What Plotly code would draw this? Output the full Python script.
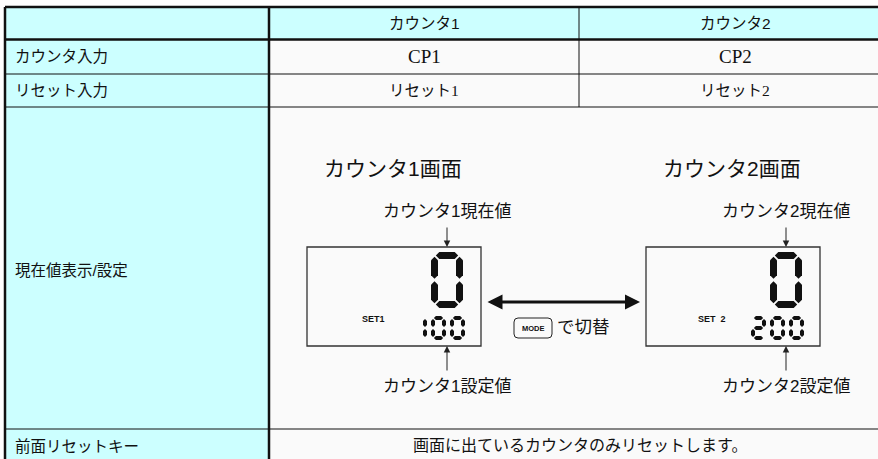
import plotly.graph_objects as go

W, H = 878, 459

# ---- table content ----
header_labels = ["カウンタ1", "カウンタ2"]
row_labels = ["カウンタ入力", "リセット入力", "現在値表示/設定", "前面リセットキー"]
counter_inputs = ["CP1", "CP2"]
reset_inputs = ["リセット1", "リセット2"]
front_reset_text = "画面に出ているカウンタのみリセットします。"

# ---- diagram content ----
screen_titles = ["カウンタ1画面", "カウンタ2画面"]
present_labels = ["カウンタ1現在値", "カウンタ2現在値"]
setting_labels = ["カウンタ1設定値", "カウンタ2設定値"]
set_tags = ["SET1", "SET  2"]
present_values = ["0", "0"]
setting_values = ["100", "200"]
switch_key = "MODE"
switch_text = "で切替"

# ---- layout geometry (pixels) ----
col_x = [5, 269, 579, 891]
row_y = [7, 39.5, 74, 107, 429, 480]
CYAN = "#ccffff"
BODY = "#fafafa"
LINE = "#111111"

SANS = "Liberation Sans, Noto Sans CJK JP, sans-serif"
SERIF = "Liberation Serif, Noto Sans CJK JP, serif"

fig = go.Figure()
shapes = []
ann = []

def rect(x0, y0, x1, y1, fill):
    shapes.append(dict(type="rect", x0=x0, y0=y0, x1=x1, y1=y1, xref="x", yref="y",
                       fillcolor=fill, line=dict(width=0), layer="below"))

def line(x0, y0, x1, y1, w, color=LINE):
    shapes.append(dict(type="line", x0=x0, y0=y0, x1=x1, y1=y1, xref="x", yref="y",
                       line=dict(color=color, width=w)))

def text(x, y, s, size, family=SANS, xanchor="center", color="#111"):
    ann.append(dict(x=x, y=y, xref="x", yref="y", text=s, showarrow=False,
                    xanchor=xanchor, yanchor="middle",
                    font=dict(size=size, family=family, color=color)))

# fills
rect(col_x[1], row_y[1], col_x[3], row_y[5], BODY)
rect(col_x[0], row_y[0], col_x[1], row_y[5], CYAN)
rect(col_x[1], row_y[0], col_x[3], row_y[1], CYAN)

# grid lines
line(col_x[0], row_y[0], col_x[3], row_y[0], 2.5)
line(col_x[0], row_y[1], col_x[3], row_y[1], 2.5)
for yy in row_y[2:5]:
    line(col_x[0], yy, col_x[3], yy, 1)
line(col_x[0], row_y[0], col_x[0], row_y[5], 2.5)
line(col_x[1], row_y[0], col_x[1], row_y[5], 2.5)
line(col_x[2], row_y[0], col_x[2], row_y[3], 1)

# header & table texts
for i, s in enumerate(header_labels):
    text((col_x[i + 1] + col_x[i + 2]) / 2, (row_y[0] + row_y[1]) / 2, s, 15.5)
row_centers = [(row_y[1] + row_y[2]) / 2, (row_y[2] + row_y[3]) / 2,
               (row_y[3] + row_y[4]) / 2 + 2, 446]
for s, yc in zip(row_labels, row_centers):
    text(13, yc, s, 15.5, xanchor="left")
for i in range(2):
    cx = (col_x[i + 1] + col_x[i + 2]) / 2
    text(cx, row_centers[0], counter_inputs[i], 19, family=SERIF)
    text(cx, row_centers[1], reset_inputs[i], 15.5, family=SERIF)
text((col_x[1] + col_x[3]) / 2, 445, front_reset_text, 16, family=SERIF)

# ---- seven segment digits ----
SEGMAP = {"0": "abcdef", "1": "bc", "2": "abged", "3": "abgcd", "4": "fgbc",
          "5": "afgcd", "6": "afgedc", "7": "abc", "8": "abcdefg", "9": "abcdfg"}

def hseg(xl, xr, yc, t):
    h = t / 2
    return f"M{xl},{yc} L{xl+h},{yc-h} L{xr-h},{yc-h} L{xr},{yc} L{xr-h},{yc+h} L{xl+h},{yc+h} Z"

def vseg(xc, yt, yb, t):
    h = t / 2
    return f"M{xc},{yt} L{xc+h},{yt+h} L{xc+h},{yb-h} L{xc},{yb} L{xc-h},{yb-h} L{xc-h},{yt+h} Z"

def digit(ch, x0, y0, w, h, t, g):
    xl, xr = x0 + t / 2, x0 + w - t / 2
    yt, ym, yb = y0 + t / 2, y0 + h / 2, y0 + h - t / 2
    segs = {
        "a": hseg(xl + g, xr - g, yt, t),
        "g": hseg(xl + g, xr - g, ym, t),
        "d": hseg(xl + g, xr - g, yb, t),
        "f": vseg(xl, yt + g, ym - g, t),
        "b": vseg(xr, yt + g, ym - g, t),
        "e": vseg(xl, ym + g, yb - g, t),
        "c": vseg(xr, ym + g, yb - g, t),
    }
    for s in SEGMAP[ch]:
        shapes.append(dict(type="path", path=segs[s], xref="x", yref="y",
                           fillcolor="#111", line=dict(width=0)))

# ---- screens ----
box_x = [307, 646]
box_y, box_w, box_h = 247, 174, 99
for i in range(2):
    bx = box_x[i]
    shapes.append(dict(type="rect", x0=bx, y0=box_y, x1=bx + box_w, y1=box_y + box_h,
                       xref="x", yref="y", line=dict(color="#333", width=1.3),
                       fillcolor="rgba(0,0,0,0)"))
    ax_x = bx + 140
    text(bx + 86, 168, screen_titles[i], 21)
    text(ax_x, 211, present_labels[i], 17)
    text(ax_x, 386, setting_labels[i], 17)
    ann.append(dict(x=ax_x, y=box_y, ax=ax_x, ay=226, xref="x", yref="y", axref="x",
                    ayref="y", text="", showarrow=True, arrowhead=2, arrowsize=1.3,
                    arrowwidth=1, arrowcolor="#222"))
    ann.append(dict(x=ax_x, y=box_y + box_h, ax=ax_x, ay=372, xref="x", yref="y",
                    axref="x", ayref="y", text="", showarrow=True, arrowhead=2,
                    arrowsize=1.3, arrowwidth=1, arrowcolor="#222"))
    text(bx + 66, 319, "<b>" + set_tags[i] + "</b>", 9,
         family="Liberation Sans, Arial, sans-serif")
    digit(present_values[i], bx + 124, box_y + 5, 32, 56, 7, 1.3)
    for k, ch in enumerate(setting_values[i]):
        digit(ch, bx + 105 + 19 * k, box_y + 69, 15, 24, 4, 0.9)

# switching arrow & key
ann.append(dict(x=640, y=302, ax=486, ay=302, xref="x", yref="y", axref="x", ayref="y",
                text="", showarrow=True, arrowhead=2, startarrowhead=2,
                arrowside="end+start", arrowsize=1, startarrowsize=1,
                arrowwidth=3, arrowcolor="#111"))
shapes.append(dict(type="path",
                   path="M518,318 L548,318 Q552,318 552,322 L552,334 Q552,338 548,338 "
                        "L518,338 Q514,338 514,334 L514,322 Q514,318 518,318 Z",
                   xref="x", yref="y", line=dict(color="#222", width=1),
                   fillcolor="rgba(0,0,0,0)"))
text(533, 328, "<b>" + switch_key + "</b>", 7.5,
     family="Liberation Sans Narrow, Liberation Sans, sans-serif")
text(555, 327, switch_text, 17.5, xanchor="left")

fig.update_layout(
    width=W, height=H, margin=dict(l=0, r=0, t=0, b=0),
    paper_bgcolor="white", plot_bgcolor="white",
    xaxis=dict(range=[0, W], visible=False, fixedrange=True),
    yaxis=dict(range=[H, 0], visible=False, fixedrange=True),
    shapes=shapes, annotations=ann, showlegend=False,
)
fig.write_html("out.html", config={"displayModeBar": False},
               post_script="document.body.style.margin='0';document.body.style.overflow='hidden';")
